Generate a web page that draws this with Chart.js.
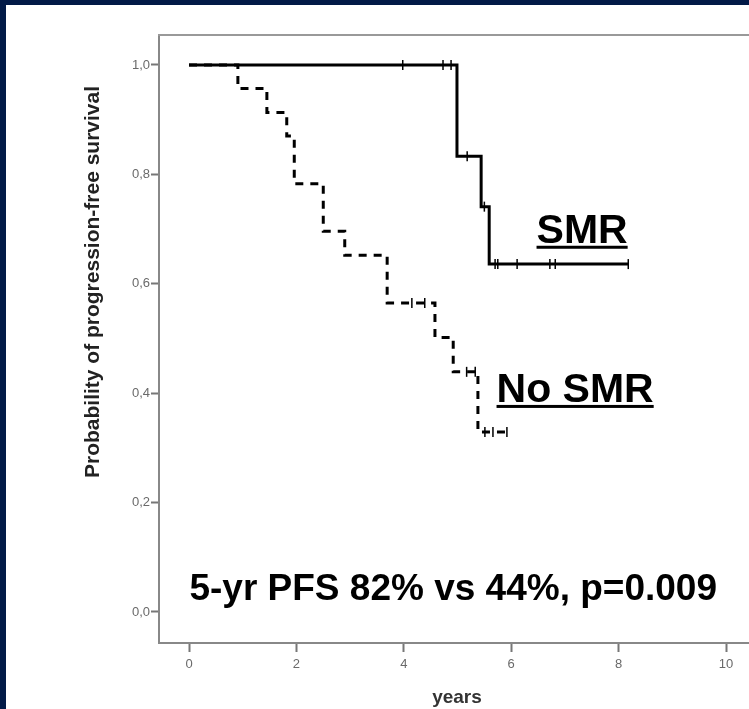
<!DOCTYPE html>
<html>
<head>
<meta charset="utf-8">
<script src="https://cdn.jsdelivr.net/npm/chart.js@4.4.1/dist/chart.umd.min.js"></script>
<style>
  html, body { margin: 0; padding: 0; width: 749px; height: 709px; overflow: hidden; background: #021a47; }
  #panel { position: absolute; left: 6px; top: 5px; width: 743px; height: 704px; background: #ffffff; }
  #wrap { position: absolute; left: 0; top: 0; width: 780px; height: 709px; }
</style>
</head>
<body>
<div id="panel"></div>
<div id="wrap"><canvas id="km" width="780" height="709"></canvas></div>
<script>
// Kaplan-Meier estimates: time of each step (years) and survival after the step
const smrTimes    = [0, 4.99, 5.44, 5.59, 8.18];
const smrSurvival = [1.0, 0.833, 0.741, 0.636, 0.636];

const noSmrTimes    = [0, 0.91, 1.45, 1.82, 1.96, 2.50, 2.90, 3.69, 4.58, 4.92, 5.38, 5.92];
const noSmrSurvival = [1.0, 0.957, 0.913, 0.870, 0.783, 0.696, 0.652, 0.565, 0.502, 0.439, 0.329, 0.329];

// Censored observations
const smrCensorTimes    = [3.98, 4.73, 4.88, 5.18, 5.50, 5.70, 5.75, 6.11, 6.72, 6.82, 8.18];
const smrCensorSurvival = [1.0, 1.0, 1.0, 0.833, 0.741, 0.636, 0.636, 0.636, 0.636, 0.636, 0.636];

const noSmrCensorTimes    = [4.15, 4.39, 5.17, 5.33, 5.51, 5.66, 5.92];
const noSmrCensorSurvival = [0.565, 0.565, 0.439, 0.439, 0.329, 0.329, 0.329];

// Axis ticks
const xTickValues = [0, 2, 4, 6, 8, 10];
const xTickLabels = ['0', '2', '4', '6', '8', '10'];
const yTickValues = [0, 0.2, 0.4, 0.6, 0.8, 1.0];
const yTickLabels = ['0,0', '0,2', '0,4', '0,6', '0,8', '1,0'];

const FONT = "'Liberation Sans', Arial, Helvetica, sans-serif";

const toPoints = (xs, ys) => xs.map((x, i) => ({ x: x, y: ys[i] }));

// Top edge of the plot frame
const frameTop = {
  id: 'frameTop',
  afterDraw(chart) {
    const { ctx, chartArea } = chart;
    ctx.save();
    ctx.strokeStyle = '#999999';
    ctx.lineWidth = 2;
    ctx.beginPath();
    ctx.moveTo(chartArea.left - 1, chartArea.top);
    ctx.lineTo(chartArea.right, chartArea.top);
    ctx.stroke();
    ctx.restore();
  }
};

// Rotated y-axis caption
const yCaption = {
  id: 'yCaption',
  afterDraw(chart, args, opts) {
    const { ctx } = chart;
    ctx.save();
    ctx.translate(opts.x, opts.y);
    ctx.rotate(-Math.PI / 2);
    ctx.font = 'bold ' + opts.size + 'px ' + FONT;
    ctx.fillStyle = opts.color;
    ctx.textAlign = 'center';
    ctx.textBaseline = 'alphabetic';
    ctx.fillText(opts.text, 0, 0);
    ctx.restore();
  }
};

// Group labels and summary text placed in data coordinates
const notes = {
  id: 'notes',
  afterDraw(chart, args, opts) {
    const { ctx } = chart;
    const xs = chart.scales.x, ys = chart.scales.y;
    ctx.save();
    opts.items.forEach(it => {
      const px = xs.getPixelForValue(it.x);
      const py = ys.getPixelForValue(it.y);
      ctx.font = 'bold ' + it.size + 'px ' + FONT;
      ctx.fillStyle = '#000';
      ctx.textAlign = 'center';
      ctx.textBaseline = 'alphabetic';
      ctx.fillText(it.text, px, py);
      if (it.underline) {
        const w = ctx.measureText(it.text).width;
        ctx.fillRect(px - w / 2, py + 3, w, 3);
      }
    });
    ctx.restore();
  }
};

new Chart(document.getElementById('km'), {
  type: 'line',
  data: {
    datasets: [
      {
        label: 'SMR',
        data: toPoints(smrTimes, smrSurvival),
        stepped: true,
        borderColor: '#000',
        borderWidth: 3,
        pointRadius: 0,
        fill: false
      },
      {
        label: 'No SMR',
        data: toPoints(noSmrTimes, noSmrSurvival),
        stepped: true,
        borderColor: '#000',
        borderWidth: 3,
        borderDash: [8, 7],
        pointRadius: 0,
        fill: false
      },
      {
        label: 'SMR censored',
        type: 'scatter',
        data: toPoints(smrCensorTimes, smrCensorSurvival),
        pointStyle: 'line',
        rotation: 90,
        pointRadius: 5,
        borderColor: '#000',
        borderWidth: 1.5,
        showLine: false
      },
      {
        label: 'No SMR censored',
        type: 'scatter',
        data: toPoints(noSmrCensorTimes, noSmrCensorSurvival),
        pointStyle: 'line',
        rotation: 90,
        pointRadius: 5,
        borderColor: '#000',
        borderWidth: 1.5,
        showLine: false
      }
    ]
  },
  options: {
    responsive: false,
    animation: false,
    events: [],
    layout: { padding: { left: 0, top: 35, right: 25, bottom: 0 } },
    plugins: {
      legend: { display: false },
      tooltip: { enabled: false },
      yCaption: { text: 'Probability of progression-free survival', x: 99, y: 282, size: 21, color: '#222' },
      notes: {
        items: [
          { text: 'SMR', x: 7.32, y: 0.675, size: 41, underline: true },
          { text: 'No SMR', x: 7.19, y: 0.384, size: 41, underline: true },
          { text: '5-yr PFS 82% vs 44%, p=0.009', x: 4.92, y: 0.022, size: 37, underline: false }
        ]
      }
    },
    scales: {
      x: {
        type: 'linear',
        min: -0.559,
        max: 10.54,
        afterBuildTicks: s => { s.ticks = xTickValues.map(v => ({ value: v })); },
        afterFit: s => { s.height = 66; },
        grid: { display: true, drawOnChartArea: false, tickLength: 9, tickWidth: 2, tickColor: '#777' },
        border: { display: true, color: '#888', width: 2 },
        ticks: {
          color: '#6a6a6a',
          padding: 5,
          maxRotation: 0,
          autoSkip: false,
          font: { family: FONT, size: 13 },
          callback: v => xTickLabels[xTickValues.indexOf(v)]
        },
        title: {
          display: true,
          text: 'years',
          color: '#333',
          font: { family: FONT, size: 19, weight: 'bold' },
          padding: { top: 0, bottom: 0 }
        }
      },
      y: {
        type: 'linear',
        min: -0.0567,
        max: 1.0548,
        afterBuildTicks: s => { s.ticks = yTickValues.map(v => ({ value: v })); },
        afterFit: s => { s.width = 159; },
        grid: { display: true, drawOnChartArea: false, tickLength: 8, tickWidth: 2, tickColor: '#777' },
        border: { display: true, color: '#888', width: 2 },
        ticks: {
          color: '#6a6a6a',
          padding: 1,
          autoSkip: false,
          font: { family: FONT, size: 13 },
          callback: v => yTickLabels[yTickValues.indexOf(v)]
        }
      }
    }
  },
  plugins: [frameTop, yCaption, notes]
});
</script>
</body>
</html>
